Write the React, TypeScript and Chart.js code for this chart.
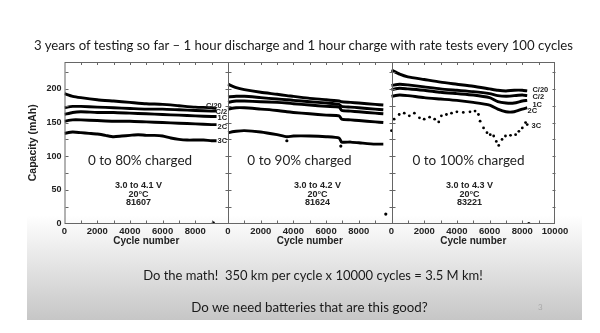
import React, { useEffect, useRef } from "react";
import { Chart, registerables } from "chart.js";
Chart.register(...registerables);

// ---------- data ----------
const rateNames = ["C/20", "C/2", "1C", "2C", "3C"];
const panelTitles = ["0 to 80% charged", "0 to 90% charged", "0 to 100% charged"];
const voltageRanges = ["3.0 to 4.1 V", "3.0 to 4.2 V", "3.0 to 4.3 V"];
const temperatures = ["20°C", "20°C", "20°C"];
const cellIds = ["81607", "81624", "83221"];

const xTickValues = [0, 2000, 4000, 6000, 8000, 10000, 12000, 14000, 16000, 18000, 20000, 22000, 24000, 26000, 28000, 30000];
const yTickValues = [0, 50, 100, 150, 200];

// Panel 1 (0-80%)
const p1Cycles = [0, 500, 1000, 2000, 3000, 4000, 5000, 6000, 7000, 8000, 9000, 9300];
const p1C20 = [193, 189, 187, 184, 182, 180, 178, 177, 175, 173, 172, 171];
const p1C2 = [172, 174, 174, 173, 172, 171, 170, 170, 169, 168, 167, 167];
const p11C = [162, 165, 166, 165, 165, 164, 163, 162, 161, 160, 159, 159];
const p12C = [152, 154, 154, 153, 152, 152, 151, 150, 149, 148, 147, 147];
const p1Cycles3C = [0, 500, 1000, 1500, 2000, 2500, 3000, 3500, 4000, 4500, 5000, 5500, 6000, 6500, 7000, 7500, 8000, 8500, 9000, 9300];
const p13C = [134, 136, 135, 134, 133, 131, 129, 130, 131, 132, 131, 131, 130, 127, 125, 124, 124, 124, 123, 123];

// Panel 2 (0-90%)
const p2Cycles = [0, 500, 1000, 2000, 3000, 3600, 4000, 5000, 6000, 6800, 6950, 7500, 8000, 9000, 9500];
const p2C20 = [207, 202, 199, 195, 192, 190, 189, 186, 184, 182, 181, 180, 179, 177, 176];
const p2C2 = [188, 189, 189, 187, 185, 184, 183, 181, 179, 177, 174, 173, 172, 170, 169];
const p21C = [180, 182, 182, 181, 180, 179, 178, 176, 174, 173, 168, 167, 166, 164, 163];
const p22C = [170, 172, 172, 170, 168, 166, 165, 163, 161, 160, 155, 154, 153, 151, 150];
const p23C = [135, 137, 138, 136, 132, 129, 130, 130, 129, 127, 121, 121, 120, 118, 118];

// Panel 3 (0-100%)
const p3Cycles = [0, 500, 1000, 2000, 3000, 4000, 5000, 6000, 6500, 7000, 7500, 8000, 8300];
const p3C20 = [228, 222, 218, 214, 210, 207, 204, 200, 198, 197, 198, 198, 197];
const p3C2 = [205, 207, 206, 203, 200, 198, 196, 193, 190, 189, 190, 191, 190];
const p31C = [199, 201, 200, 198, 195, 193, 191, 187, 181, 179, 179, 182, 183];
const p32C = [189, 191, 190, 187, 185, 183, 180, 176, 170, 166, 166, 170, 172];
const p3Cycles3C = [0, 160, 470, 780, 1090, 1400, 1710, 2000, 2330, 2640, 2890, 3050, 3360, 3670, 4000, 4390, 4800, 5110, 5320, 5420, 5630, 5840, 6040, 6250, 6410, 6560, 6760, 6970, 7280, 7590, 7790, 8000, 8200, 8300];
const p33C = [138, 155, 162, 164, 160, 164, 157, 155, 158, 155, 151, 160, 162, 164, 166, 165, 166, 167, 162, 152, 142, 135, 132, 130, 122, 116, 125, 130, 131, 132, 137, 142, 150, 147];

// stray single points (panel, cycle, capacity)
const strayPanels = [0, 1, 1, 1, 2];
const strayCycles = [9100, 3600, 6900, 9650, 8400];
const strayValues = [1, 123, 115, 14, 0];

// ---------- helpers ----------
const PANEL_SPAN = 10000;
function toPts(panel: number, cycles: number[], vals: number[]) {
  return cycles.map((c, i) => ({ x: panel * PANEL_SPAN + c, y: vals[i] }));
}
function lineDs(panel: number, cycles: number[], vals: number[]) {
  return {
    data: toPts(panel, cycles, vals),
    borderColor: "#000",
    backgroundColor: "#000",
    borderWidth: 2.9,
    pointRadius: 0,
    tension: 0.2,
    showLine: true,
  };
}
function dotDs(data: { x: number; y: number }[], r: number) {
  return {
    data,
    borderColor: "#000",
    backgroundColor: "#000",
    borderWidth: 0,
    pointRadius: r,
    showLine: false,
  };
}

const AX_FONT = "'Liberation Sans', Arial, Helvetica, sans-serif";

const framePlugin = {
  id: "framePlugin",
  afterDatasetsDraw(chart: any) {
    const { ctx, chartArea, scales } = chart;
    const xs = scales.x;
    const ys = scales.y;
    const { left, right, top, bottom } = chartArea;
    ctx.save();
    ctx.strokeStyle = "#666";
    ctx.lineWidth = 1;
    ctx.strokeRect(left + 0.5, top + 0.5, right - left - 1, bottom - top - 0.5);
    const verticals = [0, 10000, 20000, 30000].map((v) => Math.round(xs.getPixelForValue(v)) + 0.5);
    ctx.beginPath();
    verticals.slice(1, 3).forEach((x) => {
      ctx.moveTo(x, top);
      ctx.lineTo(x, bottom);
    });
    for (let p = 0; p < 3; p++) {
      for (let c = 1000; c < 10000; c += 1000) {
        const x = Math.round(xs.getPixelForValue(p * 10000 + c)) + 0.5;
        ctx.moveTo(x, top);
        ctx.lineTo(x, top + 3);
        ctx.moveTo(x, bottom);
        ctx.lineTo(x, bottom - 3);
      }
    }
    for (let v = 25; v < 240; v += 25) {
      const y = Math.round(ys.getPixelForValue(v)) + 0.5;
      verticals.forEach((x, i) => {
        if (i < 3) {
          ctx.moveTo(x, y);
          ctx.lineTo(x + 3, y);
        }
        if (i > 0) {
          ctx.moveTo(x, y);
          ctx.lineTo(x - 3, y);
        }
      });
    }
    ctx.stroke();

    const bigOffsets = [4620, 4370, 4710];
    const smallOffsets = [4530, 5470, 4770];
    ctx.fillStyle = "#222";
    ctx.textAlign = "center";
    ctx.textBaseline = "middle";
    for (let p = 0; p < 3; p++) {
      ctx.font = "13.5px Lato, 'Open Sans', sans-serif";
      ctx.fillText(panelTitles[p], xs.getPixelForValue(p * 10000 + bigOffsets[p]), ys.getPixelForValue(94));
      ctx.font = `bold 9px ${AX_FONT}`;
      const sx = xs.getPixelForValue(p * 10000 + smallOffsets[p]);
      ctx.fillText(voltageRanges[p], sx, ys.getPixelForValue(55.8));
      ctx.fillText(temperatures[p], sx, ys.getPixelForValue(43.2));
      ctx.fillText(cellIds[p], sx, ys.getPixelForValue(30.5));
    }
    ctx.font = `bold 7.5px ${AX_FONT}`;
    const p1LabelX = [9620, 9950, 9950, 9950, 9950];
    const p1LabelY = [174, 166, 157, 144, 123];
    ctx.textAlign = "right";
    rateNames.forEach((n, i) => {
      ctx.fillText(n, xs.getPixelForValue(p1LabelX[i]), ys.getPixelForValue(p1LabelY[i]));
    });
    const p3LabelX = [8620, 8620, 8620, 8320, 8560];
    const p3LabelY = [199, 188, 176, 168, 145];
    ctx.textAlign = "left";
    rateNames.forEach((n, i) => {
      ctx.fillText(n, xs.getPixelForValue(20000 + p3LabelX[i]), ys.getPixelForValue(p3LabelY[i]));
    });
    ctx.font = `bold 10px ${AX_FONT}`;
    ctx.textAlign = "center";
    for (let p = 0; p < 3; p++) {
      ctx.fillText("Cycle number", xs.getPixelForValue(p * 10000 + 5000), bottom + 18);
    }
    ctx.restore();
  },
};

export default function App() {
  const ref = useRef<HTMLCanvasElement | null>(null);
  useEffect(() => {
    if (!ref.current) return;
    const strayData = strayPanels.map((p, i) => ({ x: p * PANEL_SPAN + strayCycles[i], y: strayValues[i] }));
    const datasets: any[] = [
      lineDs(0, p1Cycles, p1C20),
      lineDs(0, p1Cycles, p1C2),
      lineDs(0, p1Cycles, p11C),
      lineDs(0, p1Cycles, p12C),
      lineDs(0, p1Cycles3C, p13C),
      lineDs(1, p2Cycles, p2C20),
      lineDs(1, p2Cycles, p2C2),
      lineDs(1, p2Cycles, p21C),
      lineDs(1, p2Cycles, p22C),
      lineDs(1, p2Cycles, p23C),
      lineDs(2, p3Cycles, p3C20),
      lineDs(2, p3Cycles, p3C2),
      lineDs(2, p3Cycles, p31C),
      lineDs(2, p3Cycles, p32C),
      dotDs(toPts(2, p3Cycles3C, p33C), 1.4),
      dotDs(strayData, 1.6),
    ];
    const chart = new Chart(ref.current, {
      type: "line",
      data: { datasets },
      options: {
        animation: false,
        responsive: false,
        maintainAspectRatio: false,
        layout: { padding: { left: 24.5, right: 45, top: 62, bottom: 0 } },
        plugins: { legend: { display: false }, tooltip: { enabled: false } },
        scales: {
          x: {
            type: "linear",
            min: 0,
            max: 30000,
            grid: { display: false, drawTicks: false },
            border: { display: false },
            afterBuildTicks: (s: any) => {
              s.ticks = xTickValues.map((v) => ({ value: v }));
            },
            afterFit: (s: any) => {
              s.height = 109.5;
            },
            ticks: {
              autoSkip: false,
              maxRotation: 0,
              padding: 2,
              color: "#222",
              font: { family: AX_FONT, weight: "bold", size: 9.5 },
              callback: (v: any) => {
                const n = Number(v);
                if (n === 30000) return "10000";
                return String(n % 10000);
              },
            },
          },
          y: {
            min: 0,
            max: 240,
            grid: { display: false, drawTicks: false },
            border: { display: false },
            afterBuildTicks: (s: any) => {
              s.ticks = yTickValues.map((v) => ({ value: v }));
            },
            afterFit: (s: any) => {
              s.width = 40;
            },
            title: {
              display: true,
              text: "Capacity (mAh)",
              color: "#222",
              padding: 2,
              font: { family: AX_FONT, weight: "bold", size: 10.5 },
            },
            ticks: {
              padding: 3,
              color: "#222",
              font: { family: AX_FONT, weight: "bold", size: 9 },
            },
          },
        },
      } as any,
      plugins: [framePlugin],
    });
    return () => chart.destroy();
  }, []);

  const slideFont = "Lato, 'Open Sans', sans-serif";
  return (
    <div style={{ position: "fixed", left: 0, top: 0, width: 600, height: 333, background: "#fff", overflow: "hidden" }}>
      <div style={{ position: "absolute", left: 27, top: 215, width: 555, height: 105, background: "linear-gradient(to bottom, #ffffff, #c6c6c6)" }} />
      <canvas ref={ref} width={600} height={333} style={{ position: "absolute", left: 0, top: 0, width: 600, height: 333 }} />
      <div style={{ position: "absolute", left: 3.5, top: 37, width: 600, textAlign: "center", font: `13.2px ${slideFont}`, lineHeight: "16px", color: "#1a1a1a", whiteSpace: "nowrap" }}>
        3 years of testing so far – 1 hour discharge and 1 hour charge with rate tests every 100 cycles
      </div>
      <div style={{ position: "absolute", left: 13, top: 267, width: 600, textAlign: "center", font: `13px ${slideFont}`, lineHeight: "16px", color: "#1a1a1a", whiteSpace: "pre" }}>
        {"Do the math!  350 km per cycle x 10000 cycles = 3.5 M km!"}
      </div>
      <div style={{ position: "absolute", left: 9.5, top: 299, width: 600, textAlign: "center", font: `13.3px ${slideFont}`, lineHeight: "16px", color: "#1a1a1a", whiteSpace: "nowrap" }}>
        Do we need batteries that are this good?
      </div>
      <div style={{ position: "absolute", left: 538, top: 302, font: `8px ${slideFont}`, color: "#aaa" }}>3</div>
    </div>
  );
}
